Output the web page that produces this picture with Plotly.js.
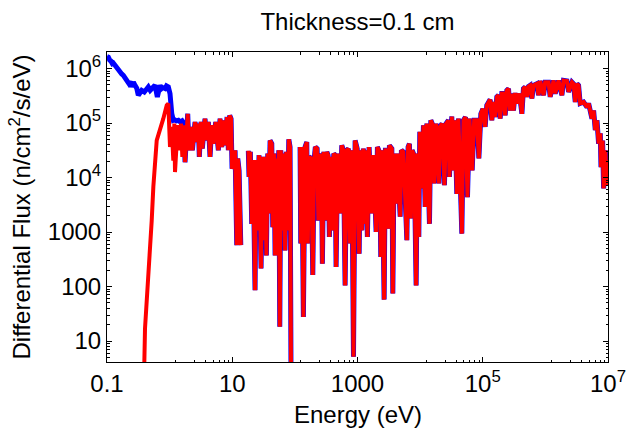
<!DOCTYPE html>
<html><head><meta charset="utf-8">
<script src="https://cdn.plot.ly/plotly-3.0.1.min.js"></script>
<style>html,body{margin:0;padding:0;background:#fff}#chart{width:627px;height:430px}</style>
</head><body><div id="chart"></div>
<script>
// log10(Energy / eV) and log10(Flux / n cm^-2 s^-1 eV^-1); null = gap
const redLogE = [
-0.409,-0.393,-0.286,-0.260,-0.206,-0.153,-0.101,-0.046,-0.021,0.006,
0.034,0.059,0.075,0.086,0.129,0.150,0.182,0.203,0.230,0.246,
0.289,0.310,0.342,0.363,0.406,0.433,0.458,0.474,0.502,0.522,
0.565,0.593,0.618,0.645,0.673,0.698,0.736,0.778,0.805,0.832,
0.864,0.885,0.917,0.938,0.960,0.981,0.997,1.021,1.045,1.072,
1.088,1.109,1.136,null,
1.257,1.268,1.289,1.311,1.332,1.364,1.380,1.396,1.428,1.460,
1.481,1.503,1.524,1.545,1.567,1.583,1.604,1.631,1.647,1.668,
1.684,1.704,1.720,1.743,1.759,1.775,1.796,1.816,1.843,1.864,
1.880,1.903,1.923,1.939,null,
2.083,2.094,2.110,2.136,2.163,2.190,2.206,2.227,2.259,2.286,
2.307,2.327,2.355,2.375,2.403,2.423,2.439,2.462,2.482,2.510,
2.530,2.551,2.574,2.600,2.621,2.642,2.658,2.684,2.722,2.749,
2.774,2.802,2.829,2.854,2.882,2.909,2.936,2.962,2.995,3.026,
3.046,3.069,
3.094,3.105,3.133,3.158,3.185,3.228,3.254,3.297,3.318,3.350,
3.372,3.393,3.425,3.446,3.468,3.494,3.510,3.548,3.564,3.585,
3.617,3.637,3.681,3.701,3.733,3.788,3.808,3.829,3.852,3.872,
3.904,3.936,3.957,3.979,3.995,4.027,4.053,4.080,4.107,4.149,
4.171,4.203,4.224,4.256,4.299,4.319,4.351,4.388,4.415,4.452,
4.468,4.506,4.522,4.554,4.586,4.612,4.666,4.692,4.724,4.756,
4.788,4.831,4.863,4.906,4.938,4.970,5.002,5.038,5.065,5.107,
5.118,5.145,5.171,5.198,5.225,5.251,5.278,5.305,5.331,5.358,
5.385,5.411,5.438,5.465,5.490,5.518,5.545,5.586,5.625,5.650,
5.677,5.705,5.731,5.757,5.785,5.810,5.865,5.891,5.917,5.971,
5.997,6.050,6.077,6.131,6.157,6.210,6.264,6.290,6.344,6.371,
6.425,6.450,6.477,6.505,6.530,6.556,6.610,6.665,6.690,6.744,
6.770,6.797,6.824,6.850,6.877,6.888,6.914,6.930,6.958,6.974,
6.995,7.018
];
const redLogFlux = [
0.30,1.23,3.21,3.83,4.68,4.87,5.08,5.325,5.356,4.56,
4.93,4.31,4.99,4.10,4.96,4.50,4.99,4.38,4.96,4.28,
5.17,4.50,4.93,4.50,5.02,4.65,4.99,4.38,5.02,4.53,
5.08,4.68,5.02,4.38,4.96,4.62,5.02,4.50,5.08,4.56,
5.05,4.59,5.11,4.50,5.14,5.08,4.16,4.26,4.50,2.76,
4.35,4.13,2.76,null,
4.49,4.01,4.47,3.15,4.32,1.93,4.32,3.03,4.41,2.33,
4.38,2.85,4.38,2.57,4.44,3.34,4.68,4.62,3.09,4.44,
2.57,4.35,2.57,4.50,1.26,4.50,3.03,4.44,2.66,4.47,
3.03,4.70,4.56,0.30,null,
4.56,2.79,4.56,1.44,4.56,4.65,2.79,4.38,4.35,2.21,
4.32,4.56,4.53,3.21,4.44,4.32,2.42,4.47,3.21,4.47,
4.41,2.91,4.38,3.03,4.44,4.41,2.36,4.44,3.34,4.59,
4.50,2.02,4.50,4.53,2.79,4.50,0.71,4.68,4.53,2.60,
4.50,3.03,
4.53,3.15,4.50,2.91,4.56,3.34,4.41,3.00,4.56,4.47,
2.54,4.50,1.76,4.50,4.50,3.06,4.59,4.53,1.87,4.44,
3.52,4.44,3.28,4.50,4.47,2.85,4.56,4.62,3.25,4.50,
4.41,2.02,4.44,2.91,4.84,3.80,4.96,3.46,4.99,3.15,
5.05,4.96,3.89,4.99,3.89,4.93,4.99,3.86,4.99,5.05,
4.01,5.12,4.13,5.05,3.70,5.08,2.97,5.05,5.11,3.64,
5.08,4.13,5.05,5.05,4.35,5.17,5.26,4.93,5.325,5.385,
5.43,5.05,5.385,5.11,5.48,5.51,5.08,5.54,5.54,5.14,
5.60,5.63,5.23,5.54,5.23,5.55,5.36,5.54,5.17,5.63,
5.66,5.48,5.67,5.69,5.45,5.69,5.72,5.51,5.77,5.51,
5.75,5.75,5.48,5.78,5.54,5.78,5.51,5.78,5.77,5.57,
5.75,5.72,5.385,5.72,5.69,5.36,5.385,5.29,5.36,5.08,
5.23,4.87,5.05,4.62,4.81,4.19,4.68,3.80,4.50,3.86,
4.32,4.07
];
// unshielded (blue) spectrum below ~1.8 eV; above that it coincides with the red one
const blueLowLogE = [
-1.000,-0.979,-0.955,-0.940,-0.915,-0.900,-0.872,-0.850,-0.830,-0.792,
-0.765,-0.739,-0.710,-0.685,-0.649,-0.625,-0.605,-0.579,-0.553,-0.525,
-0.500,-0.470,-0.446,-0.404,-0.370,-0.340,-0.310,-0.286,-0.255,-0.233,
-0.196,-0.175,-0.153,-0.130,-0.110,-0.073,-0.050,-0.021,0.006,0.034,
0.059,0.080,0.110,0.140,0.170,0.200,0.230
];
const blueLowLogFlux = [
6.22,6.21,6.15,6.14,6.09,6.10,6.059,6.02,6.00,5.936,
5.90,5.875,5.84,5.783,5.722,5.76,5.661,5.752,5.692,5.64,
5.508,5.58,5.600,5.569,5.64,5.661,5.60,5.631,5.67,5.692,
5.477,5.62,5.692,5.63,5.650,5.631,5.68,5.661,5.539,5.172,
5.050,5.060,5.040,5.050,5.020,5.040,4.990
];
const xTickVals = [0.1, 10, 1000, 1e5, 1e7];
const xTickText = ['0.1', '10', '1000', '10<sup>5</sup>', '10<sup>7</sup>'];
const yTickVals = [10, 100, 1000, 1e4, 1e5, 1e6];
const yTickText = ['10', '100', '1000', '10<sup>4</sup>', '10<sup>5</sup>', '10<sup>6</sup>'];

const toLin = a => a.map(v => (v === null ? null : Math.pow(10, v)));
const joinIdx = redLogE.findIndex(v => v !== null && v >= 0.246);
const blueLogE = blueLowLogE.concat(redLogE.slice(joinIdx));
const blueLogFlux = blueLowLogFlux.concat(redLogFlux.slice(joinIdx));

// minor tick positions (axis decoration)
const xMinor = [];
xTickVals.slice(1).forEach(M => { for (let k = 1; k <= 7; k++) xMinor.push(M * k / 8); });
const yMinor = [];
for (let n = 0; n <= 6; n++) for (let k = 2; k <= 9; k++) yMinor.push(k * Math.pow(10, n));

const FONT = 'Liberation Sans, Arial, sans-serif';
const FS = 24;
const traces = [
  {x: toLin(blueLogE), y: toLin(blueLogFlux), type: 'scatter', mode: 'lines',
   line: {color: '#0000ff', width: 5}, connectgaps: false, hoverinfo: 'skip'},
  {x: toLin(redLogE), y: toLin(redLogFlux), type: 'scatter', mode: 'lines',
   line: {color: '#ff0000', width: 4}, connectgaps: false, hoverinfo: 'skip'}
];
const axisCommon = {
  type: 'log', showgrid: false, zeroline: false, showline: true, linecolor: '#000', linewidth: 1,
  mirror: 'ticks', ticks: 'inside', ticklen: 5, tickwidth: 1, tickcolor: '#000',
  tickmode: 'array', tickfont: {family: FONT, size: FS, color: '#000'}
};
const layout = {
  width: 627, height: 430,
  margin: {l: 107, r: 19, t: 52, b: 68},
  paper_bgcolor: '#fff', plot_bgcolor: '#fff',
  showlegend: false,
  font: {family: FONT, color: '#000'},
  title: {text: 'Thickness=0.1 cm', font: {family: FONT, size: FS, color: '#000'},
          x: 0.5, xref: 'paper', xanchor: 'center', y: 0.949, yref: 'container', yanchor: 'middle'},
  xaxis: Object.assign({}, axisCommon, {
    range: [-1, 7], tickvals: xTickVals, ticktext: xTickText,
    minor: {tickmode: 'array', tickvals: xMinor, ticks: 'inside', ticklen: 2.5, tickcolor: '#000', showgrid: false}
  }),
  yaxis: Object.assign({}, axisCommon, {
    range: [0.615, 6.303], tickvals: yTickVals, ticktext: yTickText,
    minor: {tickmode: 'array', tickvals: yMinor, ticks: 'inside', ticklen: 2.5, tickcolor: '#000', showgrid: false},
    title: {text: 'Differential Flux (n/cm<sup>2</sup>/s/eV)', font: {family: FONT, size: FS, color: '#000'}, standoff: 10}
  }),
  annotations: [{
    text: 'Energy (eV)', xref: 'paper', yref: 'paper', x: 0.5, y: -0.17,
    xanchor: 'center', yanchor: 'middle', showarrow: false,
    font: {family: FONT, size: FS, color: '#000'}
  }]
};
Plotly.newPlot('chart', traces, layout, {staticPlot: true, displayModeBar: false});
</script>
</body></html>
